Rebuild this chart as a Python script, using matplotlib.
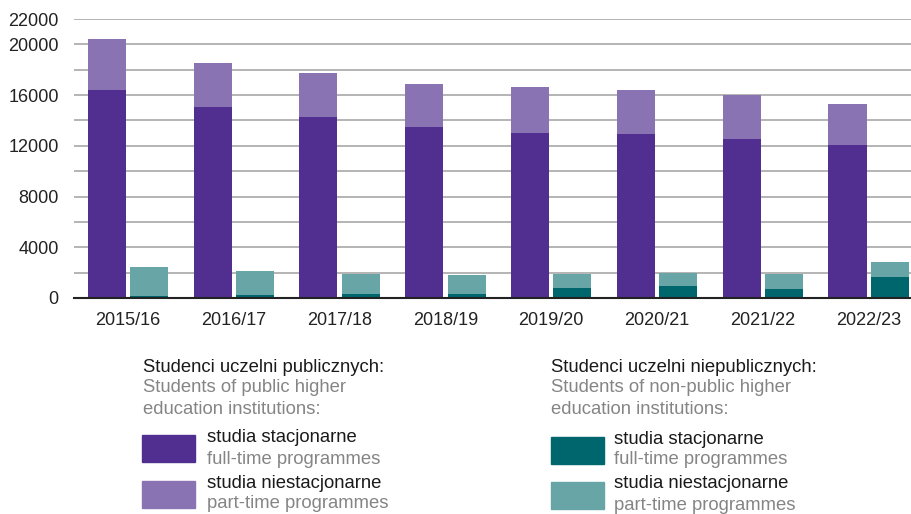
import numpy as np
import matplotlib.pyplot as plt
from matplotlib.patches import Rectangle

plt.rcParams['font.family'] = ['Liberation Sans', 'DejaVu Sans']

years = ["2015/16", "2016/17", "2017/18", "2018/19", "2019/20", "2020/21", "2021/22", "2022/23"]

# public institutions
pub_full = [16420, 15050, 14310, 13470, 13045, 12940, 12570, 12045]
pub_part = [4030, 3450, 3450, 3400, 3585, 3480, 3430, 3245]

# non-public institutions
npub_full = [160, 220, 320, 320, 790, 950, 740, 1690]
npub_part = [2270, 1890, 1580, 1480, 1110, 1000, 1160, 1155]

c_pub_full = "#512f91"
c_pub_part = "#8a73b2"
c_np_full = "#00666e"
c_np_part = "#67a5a6"
grey_txt = "#858585"

W, H = 911, 514
fig = plt.figure(figsize=(W / 100, H / 100), dpi=100)
ax = fig.add_axes([74 / W, 1 - 298 / H, 1 - 74 / W, (298 - 19) / H])

x = np.arange(len(years))
bw = 0.36
off = 0.2

ax.bar(x - off, pub_full, bw, color=c_pub_full, zorder=3)
ax.bar(x - off, pub_part, bw, bottom=pub_full, color=c_pub_part, zorder=3)
ax.bar(x + off, npub_full, bw, color=c_np_full, zorder=3)
ax.bar(x + off, npub_part, bw, bottom=npub_full, color=c_np_part, zorder=3)

ax.set_ylim(0, 22000)
ax.set_xlim(-0.51, 7.40)
ax.set_yticks(np.arange(0, 22001, 2000), minor=True)
ax.set_yticks([0, 4000, 8000, 12000, 16000, 20000, 22000])
ax.grid(axis='y', which='both', color="#a8a8a8", linewidth=1.2, zorder=0)
ax.tick_params(axis='y', which='both', length=0, pad=11, labelsize=13, labelcolor="#222222")
ax.set_xticks(x)
ax.set_xticklabels(years)
ax.tick_params(axis='x', length=0, pad=10, labelsize=13, labelcolor="#222222")
for s in ['top', 'right', 'left']:
    ax.spines[s].set_visible(False)
ax.spines['bottom'].set_color("#222222")
ax.spines['bottom'].set_linewidth(1.5)
ax.spines['bottom'].set_zorder(4)


def ftext(px, py, s, color="#1a1a1a"):
    fig.text(px / W, 1 - py / H, s, color=color, fontsize=13.3, va='center', ha='left')


def patch(px, py, w, h, color):
    fig.add_artist(Rectangle((px / W, 1 - (py + h) / H), w / W, h / H,
                             transform=fig.transFigure, color=color))


# left legend block
ftext(143, 367, "Studenci uczelni publicznych:")
ftext(143, 388, "Students of public higher", grey_txt)
ftext(143, 409, "education institutions:", grey_txt)
patch(142, 435, 53, 27, c_pub_full)
ftext(207, 438, "studia stacjonarne")
ftext(207, 459, "full-time programmes", grey_txt)
patch(142, 481, 53, 27, c_pub_part)
ftext(207, 483, "studia niestacjonarne")
ftext(207, 503, "part-time programmes", grey_txt)

# right legend block
ftext(551, 367, "Studenci uczelni niepublicznych:")
ftext(551, 388, "Students of non-public higher", grey_txt)
ftext(551, 409, "education institutions:", grey_txt)
patch(551, 437, 53, 27, c_np_full)
ftext(614, 440, "studia stacjonarne")
ftext(614, 460, "full-time programmes", grey_txt)
patch(551, 482, 53, 27, c_np_part)
ftext(614, 484, "studia niestacjonarne")
ftext(614, 505, "part-time programmes", grey_txt)

fig.savefig("out.png", dpi=100)
